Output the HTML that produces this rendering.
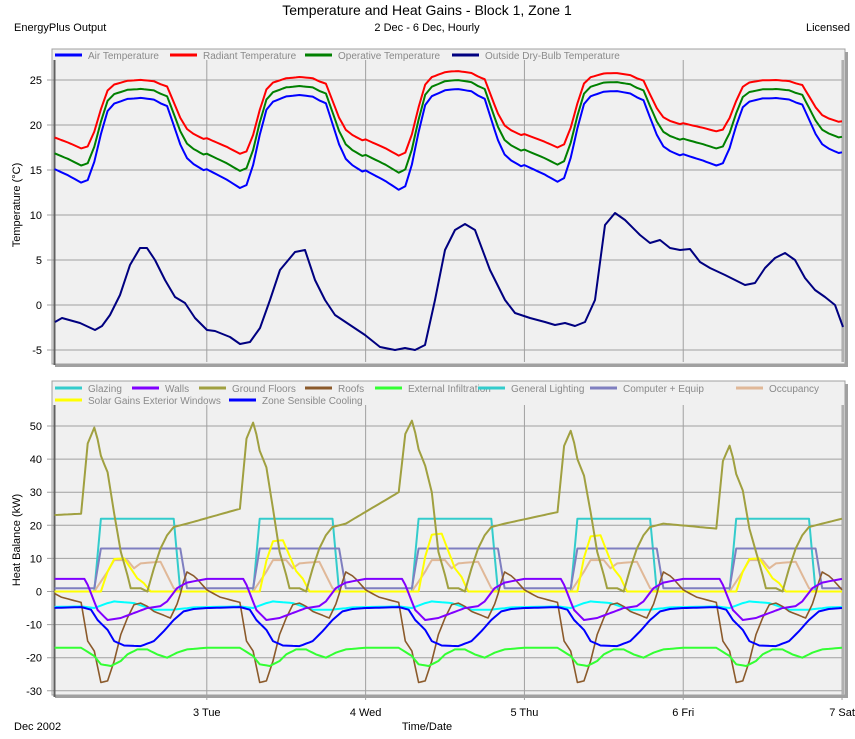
<!DOCTYPE html>
<html><head><meta charset="utf-8"><style>
body{margin:0;background:#fff;}
svg{display:block;font-family:"Liberation Sans",Arial,sans-serif;}
</style></head><body>
<svg id="s" width="855" height="739" viewBox="0 0 855 739" xmlns="http://www.w3.org/2000/svg">
<rect width="855" height="739" fill="#fff"/>
<text x="427" y="15" font-size="14" text-anchor="middle" fill="#000">Temperature and Heat Gains - Block 1, Zone 1</text>
<text x="14" y="31" font-size="11" fill="#000">EnergyPlus Output</text>
<text x="427" y="31" font-size="11" text-anchor="middle" fill="#000">2 Dec - 6 Dec, Hourly</text>
<text x="850" y="31" font-size="11" text-anchor="end" fill="#000">Licensed</text>
<rect x="55" y="52" width="793" height="315" fill="#a0a0a0"/>
<rect x="52" y="49" width="793" height="315" fill="#f0f0f0" stroke="#a0a0a0"/>
<rect x="55" y="384" width="793" height="314" fill="#a0a0a0"/>
<rect x="52" y="381" width="793" height="314" fill="#f0f0f0" stroke="#a0a0a0"/>
<g id="grid"></g>
<g id="series"></g>
<g id="leg" font-size="10" fill="#8a8a8a"></g>
<text x="427" y="730" font-size="11" text-anchor="middle">Time/Date</text>
<text x="14" y="730" font-size="11">Dec 2002</text>
<text transform="translate(20,205) rotate(-90)" font-size="11" text-anchor="middle">Temperature (°C)</text>
<text transform="translate(20,540) rotate(-90)" font-size="11" text-anchor="middle">Heat Balance (kW)</text>
</svg>
<script>
const NS="http://www.w3.org/2000/svg";
const g=document.getElementById('grid'),S=document.getElementById('series'),L=document.getElementById('leg');
function el(p,t,a,txt){const e=document.createElementNS(NS,t);for(const k in a)e.setAttribute(k,a[k]);if(txt!==undefined)e.textContent=txt;p.appendChild(e);return e;}
const X=h=>48+h*6.617;
const YT=v=>305-9*v, YB=v=>591.5-3.31*v;
for(let v=-5;v<=25;v+=5){el(g,'line',{x1:47,x2:843,y1:YT(v),y2:YT(v),stroke:'#a0a0a0'});el(g,'text',{x:42,y:YT(v)+4,'font-size':11,'text-anchor':'end',fill:'#000'},v);}
for(let v=-30;v<=50;v+=10){el(g,'line',{x1:47,x2:843,y1:YB(v),y2:YB(v),stroke:'#a0a0a0'});el(g,'text',{x:42,y:YB(v)+4,'font-size':11,'text-anchor':'end',fill:'#000'},v);}
const days=['3 Tue','4 Wed','5 Thu','6 Fri','7 Sat'];
for(let d=1;d<=5;d++){const x=X(24*d);el(g,'line',{x1:x,x2:x,y1:60,y2:362,stroke:'#a0a0a0'});el(g,'line',{x1:x,x2:x,y1:405,y2:700,stroke:'#a0a0a0'});el(g,'text',{x:x,y:716,'font-size':11,'text-anchor':'middle',fill:'#000'},days[d-1]);}
el(g,'line',{x1:54.5,x2:54.5,y1:60,y2:365,stroke:'#606060','stroke-width':2});
el(g,'line',{x1:54.5,x2:54.5,y1:405,y2:697,stroke:'#606060','stroke-width':2});
el(g,'line',{x1:843,x2:843,y1:60,y2:362,stroke:'#b0b0b0','stroke-width':2});
el(g,'line',{x1:843,x2:843,y1:405,y2:695,stroke:'#b0b0b0','stroke-width':2});
function interp(t,h){h=((h%24)+24)%24;for(let i=1;i<t.length;i++){if(h<=t[i][0]){const a=t[i-1],b=t[i];return a[1]+(b[1]-a[1])*(h-a[0])/(b[0]-a[0]);}}return t[t.length-1][1];}
function lin(arr,h){if(h<=arr[0][0])return arr[0][1];for(let i=1;i<arr.length;i++){if(h<=arr[i][0]){const a=arr[i-1],b=arr[i];return a[1]+(b[1]-a[1])*(h-a[0])/(b[0]-a[0]);}}return arr[arr.length-1][1];}
function line(fn,col,w,Y){let p=[];for(let h=1;h<=120;h+=0.5){p.push(X(h).toFixed(1)+','+Y(fn(h)).toFixed(1));}el(S,'polyline',{points:p.join(' '),fill:'none',stroke:col,'stroke-width':w,'stroke-linejoin':'round'});}
const airT=[[0,15.5],[3,14.5],[5,13.7],[6,14],[7,16],[8,19],[9,21.5],[10,22.3],[12,22.8],[14,22.9],[16,22.7],[17,22.3],[18,22],[19,20],[20,18],[21,16.6],[22,16],[24,15.2]];
const mins=[[0,13.6],[5,13.6],[29,13.0],[53,12.8],[77,13.7],[101,15.5],[125,15.5]];
const peaks=[[0,23],[13,23],[37,23.3],[61,24],[85,23.8],[109,23],[125,23]];
function frac(h){return (interp(airT,h)-13.7)/(22.9-13.7);}
function air(h){const f=frac(h),mn=lin(mins,h),pk=lin(peaks,h);return mn+f*(pk-mn);}
function rad(h){const f=frac(h);return air(h)+3.8-1.8*f;}
function op(h){return (air(h)+rad(h))/2;}
const odb=[[55,322],[62,318],[80,323],[95,330],[102,326],[110,315],[120,295],[130,265],[140,248],[147,248],[155,260],[165,280],[175,297],[185,303],[195,318],[207,330],[215,331],[230,337],[240,344],[250,342],[260,328],[270,300],[280,270],[295,252],[305,250],[315,280],[325,300],[335,315],[350,325],[365,335],[380,347],[395,350],[405,348],[415,350],[425,345],[435,300],[445,250],[455,230],[465,224],[475,230],[490,270],[505,300],[515,313],[530,318],[545,322],[555,325],[565,323],[575,326],[585,322],[595,300],[605,225],[615,213],[625,220],[640,235],[650,243],[660,240],[670,248],[680,250],[690,249],[700,262],[710,268],[725,275],[745,285],[755,283],[765,268],[775,258],[785,253],[795,260],[805,278],[815,290],[825,297],[835,305],[843,327]];
line(air,'#0000ff',2,YT);line(rad,'#ff0000',2,YT);line(op,'#008000',2,YT);
el(S,'polyline',{points:odb.map(p=>p.join(',')).join(' '),fill:'none',stroke:'#000080','stroke-width':2,'stroke-linejoin':'round'});
const day=h=>Math.min(4,Math.floor(h/24));
// ground floors absolute keypoints
const gfPk=[50,51.5,52,49,44.5], gfB=[23.5,25,30,24,19,22];
let GFP=[[0,23]];
for(let d=0;d<5;d++){const o=24*d,b=gfB[d],p=gfPk[d];
 GFP.push([o+5,b],[o+6,b+(p-b)*0.8],[o+7.1,p],[o+8,p-9],[o+9,p-14],[o+10,b],[o+11,12],[o+12,5],[o+12.5,1],[o+14,1],[o+15,0],[o+16,7],[o+17,13],[o+18,17],[o+19,19.5]);
 if(d<4)GFP.push([o+21,20.5]);}
GFP.push([120,22]);
const gf=h=>lin(GFP,h);
const roofs=[[0,0.5],[2,-1.7],[5,-3.3],[6,-15],[7,-18],[8,-27.5],[9,-27],[10,-21],[11,-13],[12,-8],[13,-4],[14,-3.5],[15,-4.5],[16,-6],[18.5,-8],[19.7,-3],[20.9,6],[22.2,4.5],[24,0.5]];
const walls=[[0,3.8],[5.5,3.8],[6,2],[7.5,-5.6],[9,-8.6],[11,-8],[13,-6.5],[15,-5],[17,-4.4],[18,-3],[19.5,1],[21,2.7],[24,3.8]];
const glaz=[[0,-4.7],[5,-4.5],[7,-5],[9,-3.5],[10,-3],[13,-3.5],[16,-5.5],[19,-5.5],[22,-4.8],[24,-4.7]];
const gl=[[0,0],[7,0],[8,22],[19,22],[20,0],[24,0]];
const ce=[[0,1],[7,1],[8,13],[20,13],[21,1],[24,1]];
const occ=[[0,0],[7,0],[8,3],[9,6],[10,9.5],[12,9.5],[13,7],[14,8.5],[17,9],[18,5],[19,1],[20,0],[24,0]];
const sol=[[0,0],[8,0],[9,6],[10,9.8],[11.5,10],[12.5,7],[13.5,4],[14.5,2.5],[15.5,0],[24,0]];
const solPk=[10,15.5,17.5,17,10];
const cool=[[0,-5],[5,-4.7],[6.5,-5.5],[7.5,-8.6],[9,-11.6],[10,-15],[11.5,-16.3],[14,-16.5],[16,-15],[17.5,-12],[19,-8.6],[20.5,-6],[22,-5.3],[24,-5]];
const inf=[[0,-17],[5,-17],[7,-19.5],[8,-22],[9.5,-22.5],[11,-21],[12,-19],[13.5,-17.5],[15,-17.5],[16.5,-19],[18,-20],[19.5,-18.5],[21,-17.5],[24,-17]];
line(h=>interp(glaz,h),'#00ffff',2,YB);
line(h=>interp(gl,h),'#33cccc',2,YB);
line(h=>interp(ce,h),'#7f7fc0',2,YB);
line(h=>interp(occ,h),'#e0b898',2,YB);
line(h=>interp(sol,h)*solPk[day(h)]/10,'#ffff00',2,YB);
line(gf,'#a0a040',2,YB);
line(h=>interp(roofs,h),'#8b5a2b',1.6,YB);
line(h=>interp(walls,h),'#8000ff',2,YB);
line(h=>interp(inf,h),'#33ff33',2,YB);
line(h=>interp(cool,h),'#0000ff',2,YB);
function leg(x,y,col,txt){el(L,'line',{x1:x,x2:x+27,y1:y,y2:y,stroke:col,'stroke-width':3});el(L,'text',{x:x+33,y:y+4},txt);}
leg(55,55,'#0000ff','Air Temperature');leg(170,55,'#ff0000','Radiant Temperature');leg(305,55,'#008000','Operative Temperature');leg(452,55,'#000080','Outside Dry-Bulb Temperature');
leg(55,388,'#33cccc','Glazing');leg(132,388,'#8000ff','Walls');leg(199,388,'#a0a040','Ground Floors');leg(305,388,'#8b5a2b','Roofs');leg(375,388,'#33ff33','External Infiltration');leg(478,388,'#33cccc','General Lighting');leg(590,388,'#7f7fc0','Computer + Equip');leg(736,388,'#e0b898','Occupancy');
leg(55,400,'#ffff00','Solar Gains Exterior Windows');leg(229,400,'#0000ff','Zone Sensible Cooling');
</script>
</body></html>
